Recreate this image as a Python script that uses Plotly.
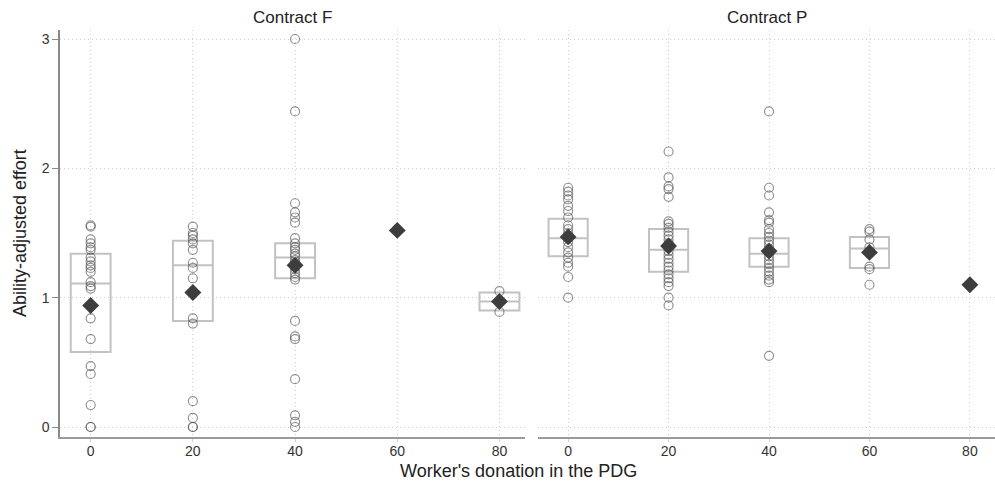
import plotly.graph_objects as go

# ---------------- data ----------------
donations = [0, 20, 40, 60, 80]
tick_labels = ["0", "20", "40", "60", "80"]
panel_titles = ["Contract F", "Contract P"]

# Contract F: ability-adjusted effort by worker's donation
f0_effort = [1.56, 1.55, 1.45, 1.42, 1.39, 1.37, 1.31, 1.28, 1.25, 1.23, 1.20,
             1.12, 1.09, 1.07, 0.84, 0.68, 0.47, 0.41, 0.17, 0.0, 0.0]
f20_effort = [1.55, 1.50, 1.48, 1.45, 1.42, 1.37, 1.27, 1.23, 1.15, 0.84, 0.80,
              0.20, 0.07, 0.0, 0.0]
f40_effort = [3.0, 2.44, 1.73, 1.66, 1.62, 1.58, 1.46, 1.42, 1.39, 1.37, 1.34,
              1.32, 1.29, 1.27, 1.24, 1.22, 1.19, 1.16, 1.14, 0.82, 0.70, 0.68,
              0.37, 0.09, 0.04, 0.0]
f60_effort = [1.52]
f80_effort = [1.05, 0.89]

# Contract P
p0_effort = [1.85, 1.82, 1.79, 1.76, 1.71, 1.67, 1.62, 1.56, 1.53, 1.50, 1.46,
             1.43, 1.39, 1.35, 1.31, 1.27, 1.24, 1.16, 1.00]
p20_effort = [2.13, 1.93, 1.86, 1.84, 1.78, 1.59, 1.57, 1.54, 1.51, 1.48, 1.45,
              1.42, 1.39, 1.36, 1.33, 1.30, 1.27, 1.24, 1.21, 1.18, 1.15, 1.12,
              1.09, 1.00, 0.94]
p40_effort = [2.44, 1.85, 1.79, 1.66, 1.60, 1.58, 1.53, 1.50, 1.47, 1.44, 1.41,
              1.38, 1.35, 1.32, 1.29, 1.26, 1.23, 1.20, 1.17, 1.14, 1.12, 0.55]
p60_effort = [1.53, 1.51, 1.45, 1.39, 1.24, 1.22, 1.10]
p80_effort = [1.10]

# box statistics (None = single observation, no box)
f_q1 = [0.58, 0.82, 1.15, None, 0.90]
f_median = [1.11, 1.25, 1.31, None, 0.97]
f_q3 = [1.34, 1.44, 1.42, None, 1.04]
f_mean = [0.94, 1.04, 1.25, 1.52, 0.97]

p_q1 = [1.32, 1.20, 1.24, 1.23, None]
p_median = [1.46, 1.37, 1.34, 1.38, None]
p_q3 = [1.61, 1.53, 1.46, 1.47, None]
p_mean = [1.47, 1.40, 1.36, 1.35, 1.10]

f_groups = [f0_effort, f20_effort, f40_effort, f60_effort, f80_effort]
p_groups = [p0_effort, p20_effort, p40_effort, p60_effort, p80_effort]

# ---------------- figure ----------------
FONT = "Liberation Sans, Arial, sans-serif"
BOX_COL = "#c2c2c2"
PT_COL = "rgba(80,80,80,0.62)"
MEAN_COL = "#3d3d3d"
GRID = "#cfcfcf"

fig = go.Figure()

panels = [
    ("x", "y", f_groups, f_q1, f_median, f_q3, f_mean),
    ("x2", "y2", p_groups, p_q1, p_median, p_q3, p_mean),
]

for xa, ya, groups, q1, med, q3, mean in panels:
    bx = [d for d, v in zip(donations, q1) if v is not None]
    bq1 = [v for v in q1 if v is not None]
    bmed = [v for v in med if v is not None]
    bq3 = [v for v in q3 if v is not None]
    fig.add_trace(go.Box(
        x=bx, q1=bq1, median=bmed, q3=bq3, lowerfence=bq1, upperfence=bq3,
        width=7.8, whiskerwidth=0, boxpoints=False,
        line=dict(color=BOX_COL, width=2), fillcolor="rgba(0,0,0,0)",
        xaxis=xa, yaxis=ya, showlegend=False, hoverinfo="skip"))
    for d, pts in zip(donations, groups):
        fig.add_trace(go.Scatter(
            x=[d] * len(pts), y=pts, mode="markers",
            marker=dict(symbol="circle-open", size=9, color=PT_COL,
                        line=dict(width=1.2, color=PT_COL)),
            xaxis=xa, yaxis=ya, showlegend=False))
    fig.add_trace(go.Scatter(
        x=donations, y=mean, mode="markers",
        marker=dict(symbol="diamond", size=13, color=MEAN_COL),
        xaxis=xa, yaxis=ya, showlegend=False))

W, H = 995, 484
L, R, T, B = 60, 0, 30, 47
pw = W - L - R
ph = H - T - B
dom1 = [0, (525 - L) / pw]
dom2 = [(538 - L) / pw, 1]


def py(pixel_y):
    """pixel row -> paper coordinate"""
    return (T + ph - pixel_y) / ph


xcommon = dict(range=[-6, 85], tickmode="array", tickvals=donations,
               ticktext=tick_labels, showgrid=True, gridcolor=GRID,
               griddash="1px,3px", gridwidth=1, zeroline=False, showline=True,
               linecolor="#9a9a9a", linewidth=2, ticks="outside", ticklen=3,
               tickcolor="#cfcfcf", ticklabelstandoff=-3,
               tickfont=dict(size=14, color="#333333"))
ycommon = dict(range=[-0.0773, 3.0696], tickmode="array", tickvals=[0, 1, 2, 3],
               ticktext=["0", "1", "2", "3"], showgrid=True, gridcolor=GRID,
               griddash="1px,3px", gridwidth=1, zeroline=False,
               tickfont=dict(size=14, color="#333333"))

fig.update_layout(
    width=W, height=H, margin=dict(l=L, r=R, t=T, b=B),
    paper_bgcolor="white", plot_bgcolor="white",
    font=dict(family=FONT, color="#222222"),
    xaxis=dict(domain=dom1, anchor="y", **xcommon),
    xaxis2=dict(domain=dom2, anchor="y2", **xcommon),
    yaxis=dict(domain=[0, 1], anchor="x", showline=True, linecolor="#8a8a8a",
               linewidth=1.5, ticks="outside", ticklen=6, tickcolor="#8a8a8a",
               **ycommon),
    yaxis2=dict(domain=[0, 1], anchor="x2", showline=False, showticklabels=False,
                ticks="", **ycommon),
    annotations=[
        dict(text=panel_titles[0], x=(dom1[0] + dom1[1]) / 2, y=py(18),
             xref="paper", yref="paper", showarrow=False, xanchor="center",
             yanchor="middle", font=dict(size=17, color="#222222")),
        dict(text=panel_titles[1], x=(dom2[0] + dom2[1]) / 2, y=py(18),
             xref="paper", yref="paper", showarrow=False, xanchor="center",
             yanchor="middle", font=dict(size=17, color="#222222")),
        dict(text="Worker's donation in the PDG", x=(518 - L) / pw,
             y=py(471), xref="paper", yref="paper", showarrow=False,
             xanchor="center", yanchor="middle",
             font=dict(size=18, color="#222222")),
        dict(text="Ability-adjusted effort", x=-(L - 20) / pw, y=py(233),
             xref="paper", yref="paper", showarrow=False, textangle=-90,
             xanchor="center", yanchor="middle",
             font=dict(size=18, color="#222222")),
    ],
)

fig.write_html("out.html")
